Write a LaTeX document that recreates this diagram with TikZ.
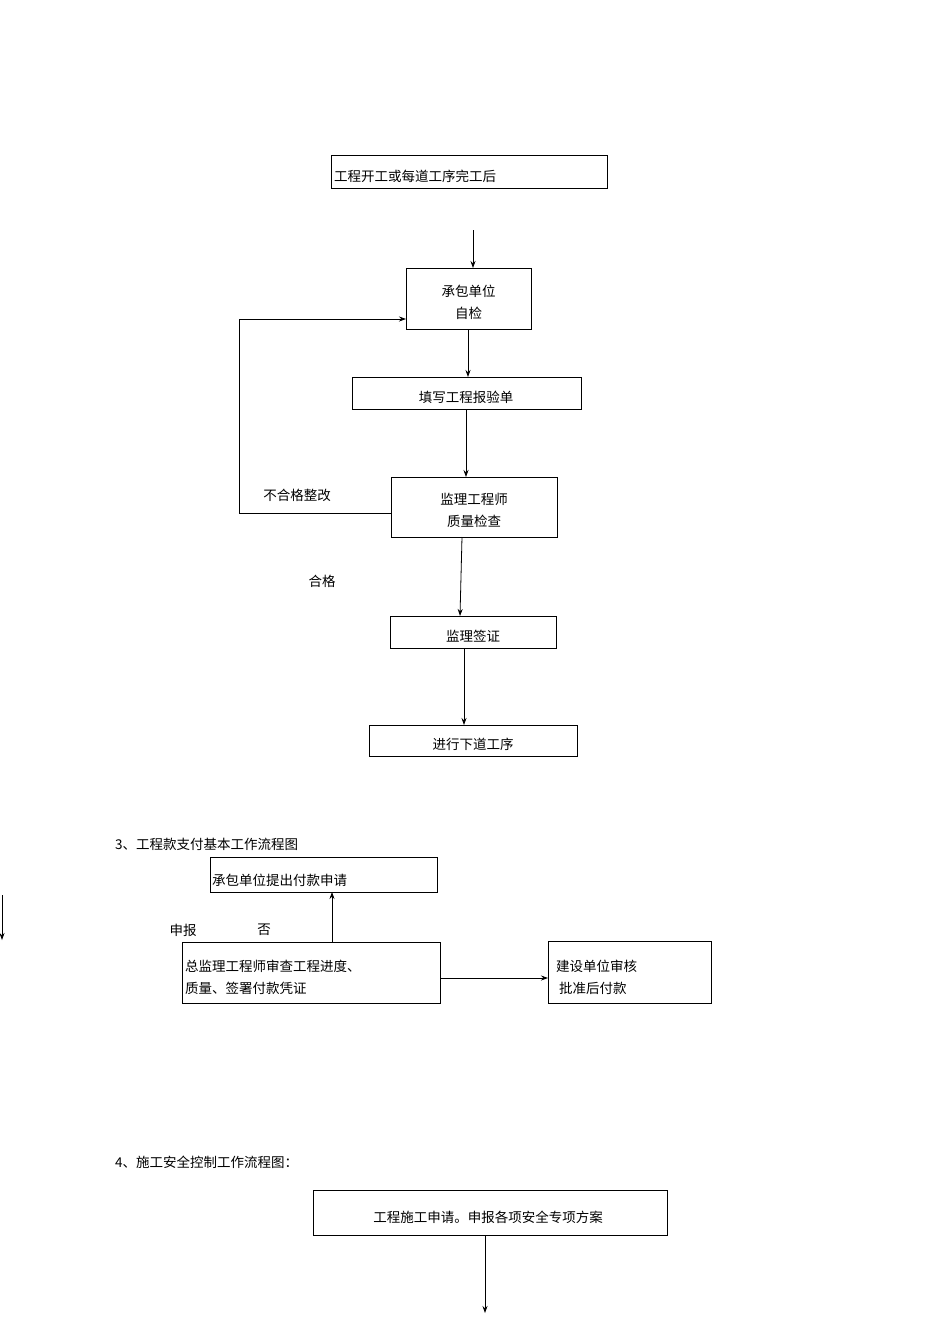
\documentclass[tikz,border=0pt]{standalone}
\usepackage{fontspec}
\setmainfont{Noto Sans CJK SC}
\usetikzlibrary{arrows.meta}
\begin{document}
\begin{tikzpicture}[x=1pt,y=-1pt,
  bx/.style={draw,line width=0.8pt},
  lbl/.style={font=\fontsize{13.5}{16}\selectfont,inner sep=0pt},
  ar/.style={draw,line width=0.8pt,-{Stealth[length=7pt,width=5pt]}},
  ln/.style={draw,line width=0.8pt}]
\useasboundingbox (0,0) rectangle (950,1344);
% boxes
\draw[bx] (331,155) rectangle (607,188);
\node[lbl,anchor=west] (b1) at (334,176) {工程开工或每道工序完工后};
\coordinate (a0) at (473,230);
\draw[bx] (406,268) coordinate (b2nw) rectangle (531,329) coordinate (b2se);
\node[lbl,align=center] (b2) at (468.5,302) {承包单位\\[6pt]自检};
\draw[bx] (352,377) rectangle (581,409);
\node[lbl] (b3) at (466,397) {填写工程报验单};
\draw[bx] (391,477) rectangle (557,537);
\node[lbl,align=center] (b4) at (474,510) {监理工程师\\[6pt]质量检查};
\draw[bx] (390,616) rectangle (556,648);
\node[lbl] (b5) at (473,636) {监理签证};
\draw[bx] (369,725) rectangle (577,756);
\node[lbl] (b6) at (473,744) {进行下道工序};
\node[lbl] (t1) at (297,495) {不合格整改};
\node[lbl] (t2) at (322,581) {合格};
% arrows
\draw[ar] (a0) -- (473,268);
\draw[ar] (468,329) -- (468,377);
\draw[ar] (466,409) -- (466,477);
\draw[ar] (462,537) -- (460,616);
\draw[ar] (464,648) -- (464,725);
\draw[ar] (391,513) -- (239,513) -- (239,319) -- (406,319);
% section 3
\node[lbl,anchor=west] (h3) at (115,844) {3、工程款支付基本工作流程图};
\draw[bx] (210,857) rectangle (437,892);
\node[lbl,anchor=west] (b7) at (212,880) {承包单位提出付款申请};
\draw[bx] (182,942) rectangle (440,1003);
\node[lbl,anchor=west,align=left] (b8) at (185,977) {总监理工程师审查工程进度、\\[6pt]质量、签署付款凭证};
\draw[bx] (548,941) rectangle (711,1003);
\node[lbl,align=left,anchor=west] (b9) at (556,977) {建设单位审核\\[6pt]\ 批准后付款};
\node[lbl] (t3) at (183,930) {申报};
\node[lbl] (t4) at (264,930) {否};
\draw[ar] (332,942) -- (332,892);
\draw[ar] (440,978) -- (548,978);
\draw[ar] (2,895) -- (2,940);
% section 4
\node[lbl,anchor=west] (h4) at (115,1162) {4、施工安全控制工作流程图：};
\draw[bx] (313,1190) rectangle (667,1235);
\node[lbl] (b10) at (488,1217) {工程施工申请。申报各项安全专项方案};
\draw[ar] (485,1235) -- (485,1313);
\end{tikzpicture}
\end{document}
